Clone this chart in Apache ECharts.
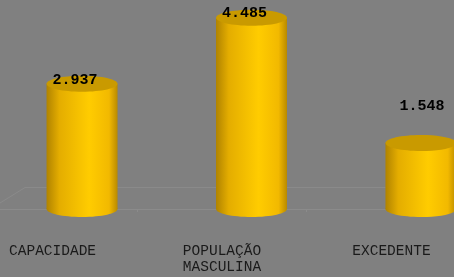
<!DOCTYPE html>
<html>
<head>
  <meta charset="utf-8"/>
  <script src="https://cdn.jsdelivr.net/npm/echarts@6/dist/echarts.min.js"></script>
  <style>
    html, body { margin: 0; padding: 0; background: #808080; }
    #chartmain { width: 454px; height: 277px; }
  </style>
</head>
<body>
  <div id="chartmain"></div>
  <script type="text/javascript">
    // dados do grafico
    var categorias = ['CAPACIDADE', 'POPULAÇÃO\nMASCULINA', 'EXCEDENTE'];
    var valores = [2.937, 4.485, 1.548];
    var rotulos = ['2.937', '4.485', '1.548'];

    // deslocamento dos rotulos em relacao ao topo do cilindro (layout)
    var ajusteRotulo = [[-7, -4], [-7, -4], [1, -37]];
    var profundidade = 29.5; // perspectiva 3D: cilindro fica a direita do rotulo
    var raioX = 35.5, raioY = 8;

    var corpo = new echarts.graphic.LinearGradient(0, 0, 1, 0, [
      { offset: 0, color: '#b08300' },
      { offset: 0.18, color: '#e4ad00' },
      { offset: 0.6, color: '#ffcc00' },
      { offset: 0.88, color: '#f2b900' },
      { offset: 1, color: '#b98a00' }
    ]);

    function desenhaCilindro(params, api) {
      var i = api.value(0);
      var topo = api.coord([i, api.value(1)]);
      var base = api.coord([i, 0]);
      var cx = topo[0] + profundidade;
      var nudge = ajusteRotulo[params.dataIndex];
      return {
        type: 'group',
        children: [
          { type: 'ellipse', shape: { cx: cx, cy: base[1], rx: raioX, ry: raioY }, style: { fill: corpo } },
          { type: 'rect', shape: { x: cx - raioX, y: topo[1], width: raioX * 2, height: base[1] - topo[1] }, style: { fill: corpo } },
          { type: 'ellipse', shape: { cx: cx, cy: topo[1], rx: raioX, ry: raioY }, style: { fill: '#c99a00' } },
          {
            type: 'text',
            style: {
              text: rotulos[params.dataIndex],
              x: cx + nudge[0], y: topo[1] + nudge[1],
              textAlign: 'center', textVerticalAlign: 'middle',
              font: 'bold 15px "Liberation Mono", "Courier New", monospace',
              fill: '#000'
            }
          }
        ]
      };
    }

    var option = {
      backgroundColor: '#808080',
      animation: false,
      grid: { left: 0, right: 0, top: 0, bottom: 68 },
      graphic: [{
        type: 'polyline',
        z: -10,
        shape: { points: [[0, 203], [25, 187.5], [454, 187.5]] },
        style: { stroke: '#8a8a8a', lineWidth: 1, fill: null }
      }],
      xAxis: {
        type: 'value',
        min: -0.31,
        max: 2.369,
        offset: 22,
        splitLine: { show: false },
        axisLine: { show: true, lineStyle: { color: '#8b8b8b' } },
        axisTick: { show: true, length: 3, customValues: [0.5, 1.5], lineStyle: { color: '#8b8b8b' } },
        axisLabel: {
          customValues: [0, 1, 2],
          formatter: function (v) { return categorias[Math.round(v)]; },
          margin: 12,
          color: '#1a1a1a',
          fontFamily: '"Liberation Mono", "Courier New", monospace',
          fontSize: 14.5,
          lineHeight: 16
        }
      },
      yAxis: { type: 'value', min: 0, max: 4.9, show: false, splitLine: { show: false } },
      series: [{
        type: 'custom',
        renderItem: desenhaCilindro,
        clip: false,
        data: valores.map(function (v, i) { return [i, v]; })
      }]
    };

    var myChart = echarts.init(document.getElementById('chartmain'));
    myChart.setOption(option);
  </script>
</body>
</html>
